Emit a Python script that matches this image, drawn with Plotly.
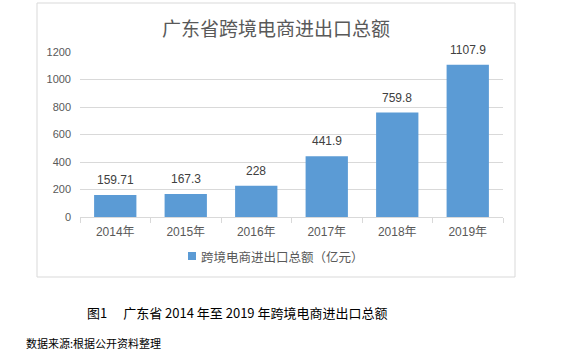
import plotly.graph_objects as go

years = ["2014年", "2015年", "2016年", "2017年", "2018年", "2019年"]
values = [159.71, 167.3, 228, 441.9, 759.8, 1107.9]
value_labels = ["159.71", "167.3", "228", "441.9", "759.8", "1107.9"]
series_name = "跨境电商进出口总额（亿元）"
chart_title = "广东省跨境电商进出口总额"
caption = "图1　 广东省 2014 年至 2019 年跨境电商进出口总额"
source = "数据来源:根据公开资料整理"

FONT = "Liberation Sans, Noto Sans CJK SC, sans-serif"
CJK = "Noto Sans CJK SC, sans-serif"
BAR = "#5B9BD5"

fig = go.Figure()
fig.add_trace(go.Bar(
    x=years, y=values, name=series_name,
    marker=dict(color=BAR, line=dict(width=0)),
    showlegend=False,
))

L, R, T, B = 80, 73, 52, 143
W, H = 576, 360
pw, ph = W - L - R, H - T - B

def px(x):
    return (x - L) / pw

def py(y):
    return (H - B - y) / ph

annotations = [
    dict(text=chart_title, xref="paper", yref="paper", x=px(276), y=py(28),
         xanchor="center", yanchor="middle", showarrow=False,
         font=dict(family=CJK, size=19, color="#595959")),
    dict(text=series_name, xref="paper", yref="paper", x=px(199), y=py(256.5),
         xanchor="left", yanchor="middle", showarrow=False,
         font=dict(family=CJK, size=12.5, color="#595959")),
    dict(text=caption, xref="paper", yref="paper", x=px(85), y=py(312),
         xanchor="left", yanchor="middle", showarrow=False,
         font=dict(family=CJK, size=13, color="#000000")),
    dict(text=source, xref="paper", yref="paper", x=px(24), y=py(343),
         xanchor="left", yanchor="middle", showarrow=False,
         font=dict(family=CJK, size=11, color="#000000")),
]
for yr, v, lab in zip(years, values, value_labels):
    annotations.append(dict(text=lab, x=yr, y=v, xref="x", yref="y",
                            xanchor="center", yanchor="bottom", yshift=6, showarrow=False,
                            font=dict(family=FONT, size=12, color="#404040")))

fig.update_layout(
    width=W, height=H,
    margin=dict(l=L, r=R, t=T, b=B, pad=0),
    paper_bgcolor="white", plot_bgcolor="white",
    bargap=0.4,
    showlegend=False,
    xaxis=dict(showline=True, linecolor="#D9D9D9", linewidth=1, ticks="outside",
               tickson="boundaries", ticklen=5, tickcolor="#D9D9D9",
               ticklabelstandoff=4,
               tickfont=dict(family=FONT, size=12, color="#595959"), fixedrange=True),
    yaxis=dict(range=[0, 1200], dtick=200, showgrid=True, gridcolor="#D9D9D9", gridwidth=1,
               zeroline=False, showline=False, fixedrange=True,
               tickfont=dict(family=FONT, size=11, color="#595959"), ticks="", ticklabelstandoff=8),
    shapes=[
        dict(type="rect", xref="paper", yref="paper",
             x0=px(37), x1=px(515), y0=py(277), y1=py(3),
             line=dict(color="#D9D9D9", width=1), fillcolor="rgba(0,0,0,0)", layer="below"),
        dict(type="rect", xref="paper", yref="paper",
             x0=px(188), x1=px(196), y0=py(260), y1=py(252),
             line=dict(width=0), fillcolor=BAR),
    ],
    annotations=annotations,
)

fig.write_html("out.html", config={"displayModeBar": False},
               post_script="document.body.style.margin='0';document.body.style.overflow='hidden';")
